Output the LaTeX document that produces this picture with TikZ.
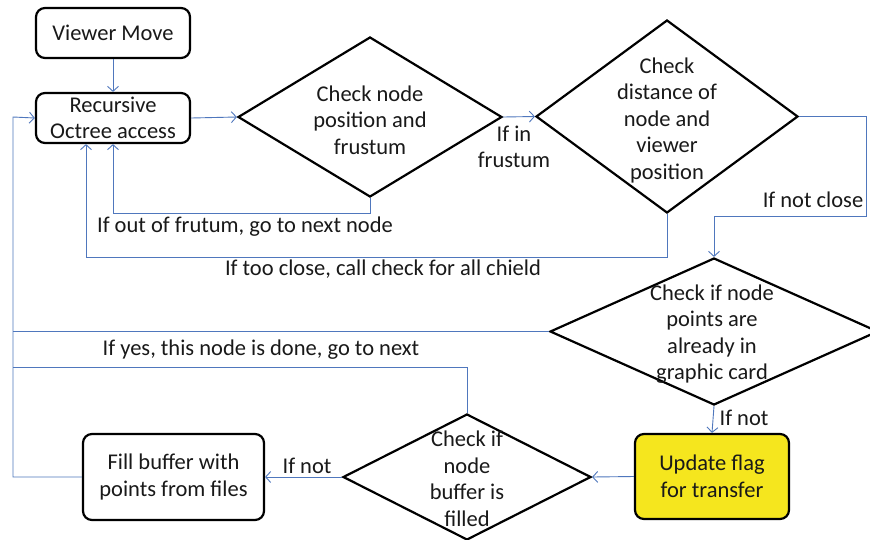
\documentclass[tikz,border=0pt]{standalone}
\usepackage{fontspec}
\setmainfont{Carlito}
\usetikzlibrary{arrows.meta,shapes.geometric}
\definecolor{lineblue}{RGB}{79,119,189}
\definecolor{flagyellow}{RGB}{245,230,30}
\definecolor{txt}{RGB}{25,25,25}
\begin{document}
\begin{tikzpicture}[x=1pt,y=-1pt,
  font=\fontsize{22.5}{26.5}\selectfont,
  every node/.style={text=txt},
  box/.style={draw=black,line width=2.2pt,rounded corners=9pt,align=center,inner sep=0pt},
  dia/.style={draw=black,line width=2.2pt,diamond,inner sep=0pt},
  lbl/.style={align=center,inner sep=0pt},
  conn/.style={draw=lineblue,line width=0.9pt},
  arr/.style={conn,-{Straight Barb[length=5pt,width=11pt]}}]
\useasboundingbox (0,0) rectangle (870,539);
\fill[white] (0,0) rectangle (870,539);
% boxes
\node[box,minimum width=154pt,minimum height=50pt] (vm) at (113,33) {Viewer Move};
\node[box,minimum width=154pt,minimum height=50pt] (roa) at (113,118) {Recursive\\Octree access};
\node[box,fill=flagyellow,minimum width=154pt,minimum height=85pt] (upd) at (712,476.5) {Update flag\\for transfer};
\node[box,minimum width=181pt,minimum height=86pt] (fill) at (173.5,477) {Fill buffer with\\points from files};
% diamonds
\node[dia,minimum width=264pt,minimum height=160pt] (d1) at (370,117) {};
\node[lbl] at (370,120) {Check node\\position and\\frustum};
\node[dia,minimum width=262pt,minimum height=193pt] (d2) at (667,116.5) {};
\node[lbl] at (667,120) {Check\\distance of\\node and\\viewer\\position};
\node[dia,minimum width=328pt,minimum height=147pt] (d3) at (714,331.5) {};
\node[lbl] at (712,334) {Check if node\\points are\\already in\\graphic card};
\node[dia,minimum width=248pt,minimum height=126pt] (d4) at (467,477) {};
\node[lbl] at (467,479) {Check if\\node\\buffer is\\filled};
% helper coordinates
\coordinate (c1) at (866,216);
\coordinate (c2) at (113,213);
\coordinate (c3) at (86,257);
\coordinate (c4) at (13,117);
\coordinate (c5) at (13,367);
% connectors
\draw[arr] (vm.south) -- (roa.north);
\draw[arr] (roa.east) -- (d1.west);
\draw[arr] (d1.east) -- (d2.west);
\draw[arr] (d2.east) -| (c1) -| (d3.north);
\draw[arr] (d1.south) |- (c2) -- (roa.south);
\draw[arr] (d2.south) |- (c3) -- (roa.south -| c3);
\draw[arr] (fill.west) -| (c4) -- (roa.west);
\draw[conn] (d3.west) -- (d3.west -| c4);
\draw[conn] (d4.north) |- (c5);
\draw[arr] (d3.south) -- (upd.north);
\draw[arr] (upd.west) -- (d4.east);
\draw[arr] (d4.west) -- (fill.east);
% labels
\node[lbl] at (514,147) {If in\\frustum};
\node[lbl] at (813,200) {If not close};
\node[lbl] at (245,227) {If out of frutum, go to next node};
\node[lbl] at (383,269) {If too close, call check for all chield};
\node[lbl] at (261,350) {If yes, this node is done, go to next};
\node[lbl] at (744,418) {If not};
\node[lbl] at (307,466) {If not};
\end{tikzpicture}
\end{document}
